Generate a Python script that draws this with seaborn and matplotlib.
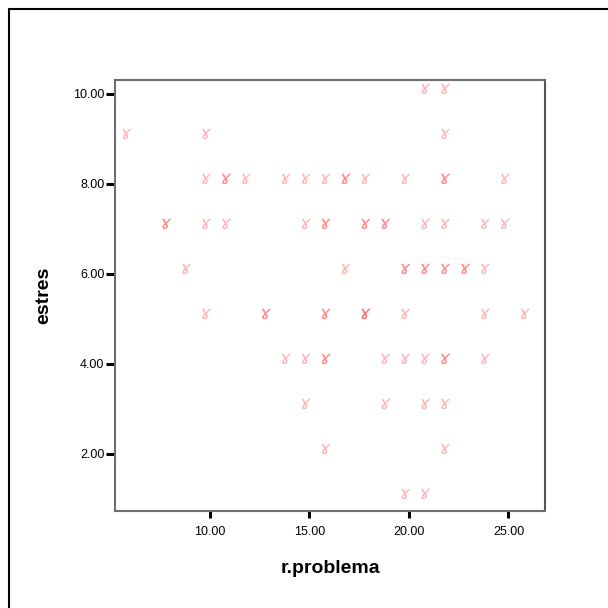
import matplotlib
matplotlib.use("Agg")
import matplotlib.pyplot as plt
from matplotlib.lines import Line2D
import matplotlib.transforms as mtransforms
import seaborn as sns
import pandas as pd

# data (duplicates reflect overlapping points drawn darker)
r_problema = [21, 22,
              6, 10, 22,
              10, 11, 11, 12, 14, 15, 16, 17, 17, 18, 20, 22, 22, 25,
              8, 8, 10, 11, 15, 16, 16, 18, 18, 19, 19, 21, 22, 24, 25,
              9, 17, 20, 20, 21, 21, 22, 22, 23, 23, 24,
              10, 13, 13, 16, 16, 18, 18, 18, 20, 24, 26,
              14, 15, 16, 16, 19, 20, 21, 22, 22, 24,
              15, 19, 21, 22,
              16, 22,
              20, 21]
estres = [10, 10,
          9, 9, 9,
          8, 8, 8, 8, 8, 8, 8, 8, 8, 8, 8, 8, 8, 8,
          7, 7, 7, 7, 7, 7, 7, 7, 7, 7, 7, 7, 7, 7, 7,
          6, 6, 6, 6, 6, 6, 6, 6, 6, 6, 6,
          5, 5, 5, 5, 5, 5, 5, 5, 5, 5, 5,
          4, 4, 4, 4, 4, 4, 4, 4, 4, 4,
          3, 3, 3, 3,
          2, 2,
          1, 1]
x_ticks = [10, 15, 20, 25]
y_ticks = [2, 4, 6, 8, 10]

df = pd.DataFrame({"r.problema": r_problema, "estres": estres})

sns.set_style("white")
plt.rcParams["font.family"] = ["Liberation Sans", "DejaVu Sans"]
plt.rcParams["text.color"] = "black"
plt.rcParams["axes.labelcolor"] = "black"
plt.rcParams["xtick.color"] = "black"
plt.rcParams["ytick.color"] = "black"

fig = plt.figure(figsize=(6.08, 6.08), dpi=100)
ax = fig.add_axes([114.7 / 608, 1 - 510.7 / 608, (545.3 - 114.7) / 608, (510.7 - 80) / 608])

sns.scatterplot(data=df, x="r.problema", y="estres", ax=ax,
                marker="$ɤ$", s=55, color="#ff5c5c", alpha=0.45,
                linewidth=0, edgecolor="none")
coll = ax.collections[0]
coll.set_offset_transform(ax.transData + mtransforms.ScaledTranslation(-3 / 100, 5 / 100, fig.dpi_scale_trans))

ax.set_xlim(5.235, 26.85)
ax.set_ylim(0.74, 10.31)
ax.set_xticks(x_ticks)
ax.set_yticks(y_ticks)
ax.set_xticklabels([f"{v:.2f}" for v in x_ticks], fontsize=9)
ax.set_yticklabels([f"{v:.2f}" for v in y_ticks], fontsize=9)
ax.tick_params(axis="both", direction="out", length=6.5, width=2.2, color="black", pad=1,
               bottom=True, left=True)
ax.tick_params(axis="x", length=5, pad=6)
for sp in ax.spines.values():
    sp.set_color("#6e6e6e")
    sp.set_linewidth(1.5)
ax.spines["right"].set_color("#555555")

ax.set_xlabel("r.problema", fontsize=14, fontweight="bold", labelpad=16)
ax.set_ylabel("estres", fontsize=14, fontweight="bold", labelpad=15)

# outer frame
fig.add_artist(Line2D([8.5 / 608, 8.5 / 608], [0, 1 - 8.5 / 608], transform=fig.transFigure, color="black", lw=1.5))
fig.add_artist(Line2D([8.5 / 608, 1], [1 - 8.5 / 608, 1 - 8.5 / 608], transform=fig.transFigure, color="black", lw=1.5))

fig.savefig("out.png", dpi=100)
